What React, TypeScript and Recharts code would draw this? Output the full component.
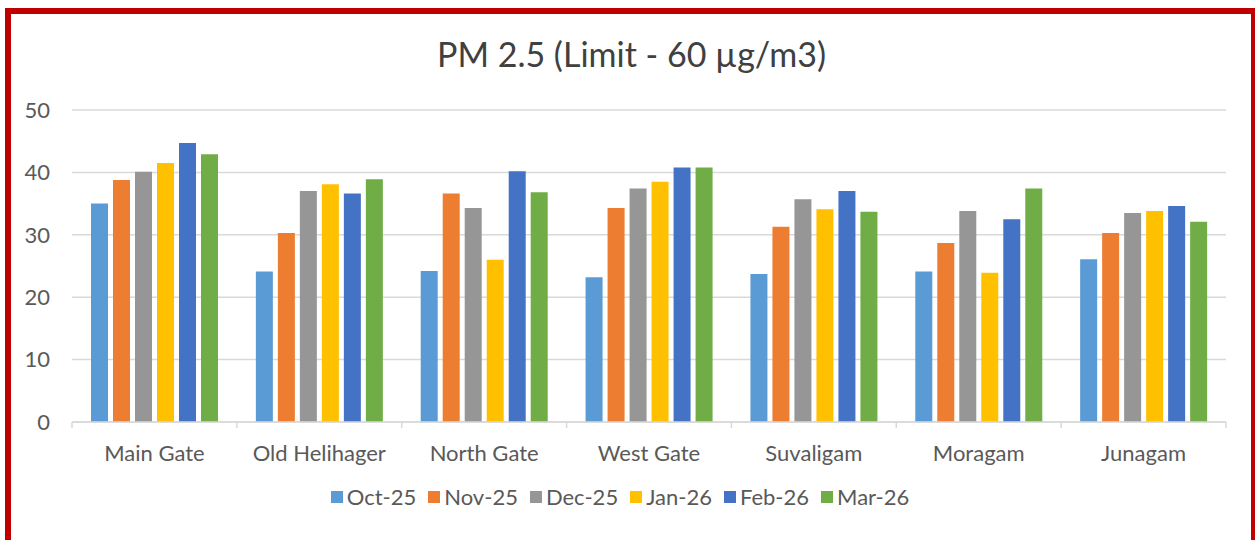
import React from "react";
import { BarChart, Bar, XAxis, YAxis, CartesianGrid, Legend } from "recharts";

const categories = ["Main Gate", "Old Helihager", "North Gate", "West Gate", "Suvaligam", "Moragam", "Junagam"];
const seriesNames = ["Oct-25", "Nov-25", "Dec-25", "Jan-26", "Feb-26", "Mar-26"];
const oct25 = [35.0, 24.1, 24.2, 23.2, 23.7, 24.1, 26.1];
const nov25 = [38.8, 30.3, 36.6, 34.3, 31.3, 28.7, 30.3];
const dec25 = [40.1, 37.0, 34.3, 37.4, 35.7, 33.8, 33.5];
const jan26 = [41.5, 38.1, 26.0, 38.5, 34.1, 23.9, 33.8];
const feb26 = [44.7, 36.6, 40.2, 40.8, 37.0, 32.5, 34.6];
const mar26 = [42.9, 38.9, 36.8, 40.8, 33.7, 37.4, 32.1];
const yTicks = [0, 10, 20, 30, 40, 50];
const title = "PM 2.5 (Limit - 60 µg/m3)";

const seriesValues = [oct25, nov25, dec25, jan26, feb26, mar26];
const colors = ["#5B9BD5", "#ED7D31", "#969696", "#FFC000", "#4472C4", "#70AD47"];
const FONT = "Lato, 'Open Sans', sans-serif";
const TEXT = "#595959";

const data = categories.map((c, i) => {
  const row: Record<string, string | number> = { name: c };
  seriesNames.forEach((s, k) => {
    row[s] = seriesValues[k][i];
  });
  return row;
});

const XTick = (props: any) => {
  const { x, y, payload, index, visibleTicksCount } = props;
  const off = payload.offset ?? 0;
  const isLast = index === visibleTicksCount - 1;
  return (
    <g>
      <line x1={x - off} x2={x - off} y1={y} y2={y + 6} stroke="#D9D9D9" strokeWidth={1.5} />
      {isLast && <line x1={x + off} x2={x + off} y1={y} y2={y + 6} stroke="#D9D9D9" strokeWidth={1.5} />}
      <text x={x} y={y + 39} textAnchor="middle" fill={TEXT} fontSize={22} fontFamily={FONT}>
        {payload.value}
      </text>
    </g>
  );
};

const LegendContent = (props: any) => {
  const items = [...(props.payload || [])].sort(
    (a: any, b: any) => seriesNames.indexOf(a.value) - seriesNames.indexOf(b.value)
  );
  return (
    <div style={{ display: "flex", justifyContent: "center", alignItems: "center", fontFamily: FONT, fontSize: 22, color: TEXT, lineHeight: "26px" }}>
      {items.map((p: any, i: number) => (
        <div key={p.value} style={{ display: "flex", alignItems: "center", marginRight: i < items.length - 1 ? 12 : 0 }}>
          <span style={{ display: "inline-block", width: 12, height: 12, background: p.color, marginRight: 4 }} />
          <span>{p.value}</span>
        </div>
      ))}
    </div>
  );
};

export default function App() {
  return (
    <div style={{ position: "absolute", left: 0, top: 0, width: 1255, height: 540, overflow: "hidden", background: "#fff" }}>
      <div
        style={{
          position: "absolute",
          left: 5,
          top: 8,
          width: 1252,
          height: 600,
          boxSizing: "border-box",
          border: "6px solid #C00000",
        }}
      />
      <div
        style={{
          position: "absolute",
          left: 0,
          top: 34,
          width: 1263,
          textAlign: "center",
          fontFamily: FONT,
          fontSize: 34,
          color: "#404040",
          lineHeight: "40px",
          whiteSpace: "nowrap",
        }}
      >
        {title}
      </div>
      <div style={{ position: "absolute", left: 0, top: 0 }}>
        <BarChart
          width={1255}
          height={540}
          data={data}
          margin={{ top: 110, right: 29, bottom: 78, left: 0 }}
          barCategoryGap={19}
          barGap={5}
        >
          <CartesianGrid vertical={false} stroke="#D9D9D9" strokeWidth={1.5} />
          <XAxis
            dataKey="name"
            height={40}
            tickLine={false}
            tickSize={0}
            tickMargin={0}
            axisLine={{ stroke: "#D9D9D9", strokeWidth: 1.5 }}
            tick={<XTick />}
            interval={0}
          />
          <YAxis
            width={72}
            domain={[0, 50]}
            ticks={yTicks}
            axisLine={false}
            tickLine={false}
            tickSize={0}
            tickMargin={22}
            tick={{ fill: TEXT, fontSize: 22, fontFamily: FONT }}
          />
          <Legend
            layout="horizontal"
            verticalAlign="middle"
            align="center"
            wrapperStyle={{ top: 484, left: 0, width: 1240, height: 26 }}
            content={<LegendContent />}
          />
          {seriesNames.map((s, k) => (
            <Bar key={s} dataKey={s} fill={colors[k]} isAnimationActive={false} />
          ))}
        </BarChart>
      </div>
    </div>
  );
}
